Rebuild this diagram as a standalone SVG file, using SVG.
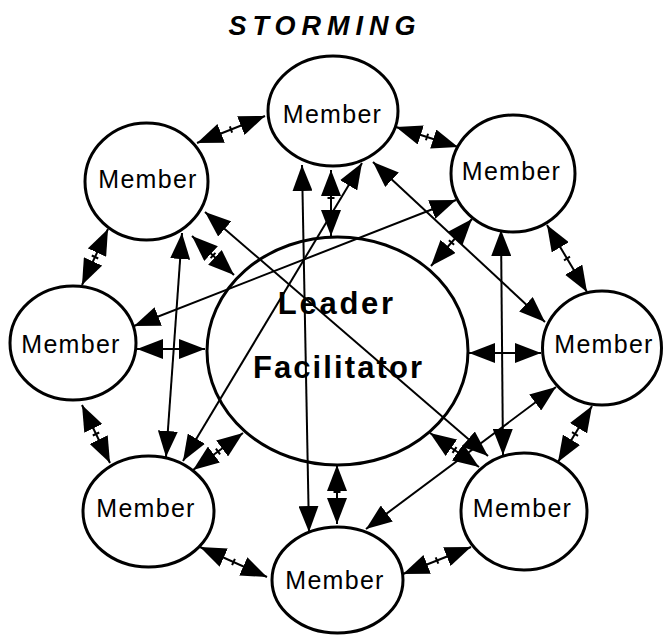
<svg xmlns="http://www.w3.org/2000/svg" width="663" height="637" viewBox="0 0 663 637">
  <style>
    .node ellipse { fill: #ffffff; stroke: #000000; stroke-width: 3; }
    .member { font-family: "Liberation Sans", Arial, sans-serif; font-size: 25px; letter-spacing: 1.3px; text-anchor: middle; fill: #000000; }
    .hub { font-family: "Liberation Sans", Arial, sans-serif; font-size: 31px; font-weight: bold; text-anchor: middle; fill: #000000; }
    .title { font-family: "Liberation Sans", Arial, sans-serif; font-size: 27px; font-weight: bold; font-style: italic; letter-spacing: 6px; text-anchor: middle; fill: #000000; }
    .link { stroke: #000000; stroke-width: 2; fill: none; marker-start: url(#head); marker-end: url(#head); }
    .tick { stroke: #000000; stroke-width: 2; fill: none; }
  </style>
  <defs>
    <marker id="head" viewBox="0 0 26 20" refX="26" refY="10" markerWidth="26" markerHeight="20" markerUnits="userSpaceOnUse" orient="auto-start-reverse">
      <path d="M0,0 L26,10 L0,20 z" fill="#000000"/>
    </marker>
  </defs>

  <rect x="0" y="0" width="663" height="637" fill="#ffffff"/>

  <text class="title" x="325" y="35">STORMING</text>

  <!-- nodes -->
  <g id="node-center" class="node">
    <ellipse cx="337.5" cy="351" rx="130.5" ry="114"/>
  </g>

  <!-- connectors -->
  <g id="connectors">
    <!-- neighbours around the ring -->
    <line class="link" x1="197" y1="143" x2="265" y2="116"/>
    <line class="tick" x1="229.9" y1="126.3" x2="232.1" y2="132.7"/>
    <line class="link" x1="396" y1="127" x2="458" y2="147"/>
    <line class="tick" x1="428.1" y1="133.7" x2="425.9" y2="140.3"/>
    <line class="link" x1="547" y1="225" x2="587" y2="292"/>
    <line class="tick" x1="570" y1="256.7" x2="564" y2="260.3"/>
    <line class="link" x1="592" y1="406" x2="558" y2="462"/>
    <line class="tick" x1="572" y1="432.2" x2="578" y2="435.8"/>
    <line class="link" x1="471" y1="547" x2="403" y2="574"/>
    <line class="tick" x1="435.7" y1="557.3" x2="438.3" y2="563.7"/>
    <line class="link" x1="267" y1="577" x2="200" y2="547"/>
    <line class="tick" x1="234.9" y1="558.8" x2="232.1" y2="565.2"/>
    <line class="link" x1="110" y1="463" x2="82" y2="405"/>
    <line class="tick" x1="99.2" y1="432.5" x2="92.8" y2="435.5"/>
    <line class="link" x1="82" y1="285" x2="108" y2="229"/>
    <line class="tick" x1="98.2" y1="258.5" x2="91.8" y2="255.5"/>

    <!-- spokes to the centre -->
    <line class="link" x1="331" y1="170" x2="331" y2="236"/>
    <line class="tick" x1="327.5" y1="198" x2="334.5" y2="198"/>
    <line class="link" x1="192" y1="236" x2="234" y2="275"/>
    <line class="tick" x1="215.4" y1="252.9" x2="210.6" y2="258.1"/>
    <line class="link" x1="472" y1="219" x2="431" y2="266"/>
    <line class="tick" x1="448.9" y1="240.2" x2="454.1" y2="244.8"/>
    <line class="link" x1="137" y1="349" x2="205" y2="349"/>
    <line class="link" x1="469" y1="353" x2="541" y2="353"/>
    <line class="link" x1="193" y1="470" x2="243" y2="433"/>
    <line class="tick" x1="215.9" y1="448.7" x2="220.1" y2="454.3"/>
    <line class="link" x1="430" y1="433" x2="479" y2="467"/>
    <line class="tick" x1="456.5" y1="447.1" x2="452.5" y2="452.9"/>
    <line class="link" x1="337" y1="465" x2="337" y2="524"/>
    <line class="tick" x1="333.5" y1="492" x2="340.5" y2="492"/>

    <!-- long crossing links -->
    <line class="link" x1="302" y1="165" x2="309" y2="532"/>
    <line class="link" x1="182" y1="233" x2="166" y2="457"/>
    <line class="link" x1="501" y1="230" x2="503" y2="455"/>
    <line class="link" x1="362" y1="163" x2="183" y2="461"/>
    <line class="link" x1="373" y1="162" x2="545" y2="322"/>
    <line class="link" x1="205" y1="212" x2="488" y2="456"/>
    <line class="link" x1="456" y1="200" x2="134" y2="326"/>
    <line class="link" x1="556" y1="387" x2="366" y2="529"/>
  </g>

  <g id="center-label">
    <text class="hub" x="336.8" y="314" letter-spacing="2.7">Leader</text>
    <text class="hub" x="338.5" y="378" letter-spacing="2.1">Facilitator</text>
  </g>

  <g id="node-top" class="node">
    <ellipse cx="333" cy="111" rx="65" ry="55"/>
    <text class="member" x="332.5" y="123">Member</text>
  </g>
  <g id="node-top-left" class="node">
    <ellipse cx="146.5" cy="181.5" rx="61.5" ry="58.5"/>
    <text class="member" x="148" y="188">Member</text>
  </g>
  <g id="node-top-right" class="node">
    <ellipse cx="513" cy="173.5" rx="62" ry="58.5"/>
    <text class="member" x="511.5" y="180">Member</text>
  </g>
  <g id="node-left" class="node">
    <ellipse cx="73" cy="343" rx="63" ry="57"/>
    <text class="member" x="71" y="353">Member</text>
  </g>
  <g id="node-right" class="node">
    <ellipse cx="602" cy="348" rx="59.5" ry="57"/>
    <text class="member" x="604" y="353">Member</text>
  </g>
  <g id="node-bottom-left" class="node">
    <ellipse cx="148.5" cy="511.5" rx="65.5" ry="55.5"/>
    <text class="member" x="146" y="517">Member</text>
  </g>
  <g id="node-bottom-right" class="node">
    <ellipse cx="524" cy="511.5" rx="63" ry="58.5"/>
    <text class="member" x="522.5" y="517">Member</text>
  </g>
  <g id="node-bottom" class="node">
    <ellipse cx="337.5" cy="580" rx="65.5" ry="53"/>
    <text class="member" x="335" y="589">Member</text>
  </g>
</svg>
